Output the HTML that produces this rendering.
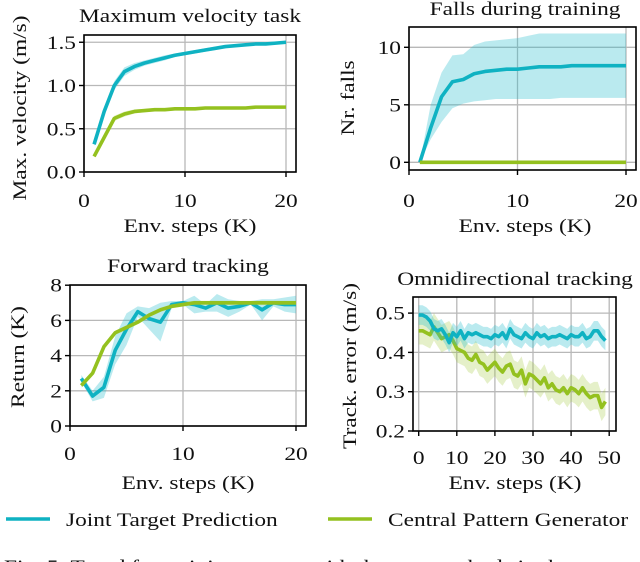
<!DOCTYPE html>
<html><head><meta charset="utf-8">
<style>
html,body{margin:0;padding:0;background:#fff;width:640px;height:562px;overflow:hidden}
svg{display:block}
text{font-family:"Liberation Serif","DejaVu Serif",serif;fill:#111}
</style></head>
<body>
<svg id="fig" width="640" height="562" viewBox="0 0 640 562" xmlns="http://www.w3.org/2000/svg"></svg>
<script>
// ---- data ----
const stepsA = [1,2,3,4,5,6,7,8,9,10,11,12,13,14,15,16,17,18,19,20];
const velJTP = [0.32,0.7,1.0,1.16,1.22,1.26,1.29,1.32,1.35,1.37,1.39,1.41,1.43,1.45,1.46,1.47,1.48,1.48,1.49,1.50];
const velCPG = [0.18,0.4,0.62,0.67,0.7,0.71,0.72,0.72,0.73,0.73,0.73,0.74,0.74,0.74,0.74,0.74,0.75,0.75,0.75,0.75];
const velSpread = [0.02,0.04,0.05,0.05,0.04,0.03,0.03,0.03,0.02,0.02,0.02,0.02,0.02,0.01,0.01,0.01,0.01,0.01,0.01,0.01];
const fallsJTP = [0,3,5.7,7.0,7.2,7.7,7.9,8.0,8.1,8.1,8.2,8.3,8.3,8.3,8.4,8.4,8.4,8.4,8.4,8.4];
const fallsUp = [0,5,7.8,9.3,9.4,10.2,10.5,10.6,10.7,10.8,11.0,11.2,11.2,11.2,11.2,11.2,11.2,11.2,11.2,11.2];
const fallsLo = [0,2,3.5,4.7,5.1,5.3,5.4,5.5,5.5,5.5,5.5,5.5,5.5,5.6,5.6,5.6,5.6,5.6,5.6,5.6];
const fallsCPG = [0,0,0,0,0,0,0,0,0,0,0,0,0,0,0,0,0,0,0,0];
const retJTP = [2.7,1.7,2.2,4.3,5.5,6.5,6.1,5.9,6.9,7.0,6.9,6.7,7.0,6.7,6.8,7.0,6.6,7.0,6.9,6.9];
const retSpread = [0.2,0.3,0.6,0.8,0.9,0.3,0.6,1.1,0.2,0.1,0.5,0.2,0.5,0.5,0.3,0.1,0.6,0.2,0.4,0.5];
const retCPG = [2.3,3.0,4.5,5.3,5.6,5.9,6.3,6.6,6.8,6.9,7.0,7.0,7.0,7.0,7.0,7.0,7.0,7.0,7.0,7.0];
const stepsB = [0,1,2,3,4,5,6,7,8,9,10,11,12,13,14,15,16,17,18,19,20,21,22,23,24,25,26,27,28,29,30,31,32,33,34,35,36,37,38,39,40,41,42,43,44,45,46,47,48,49];
const errJTP = [0.495,0.495,0.49,0.48,0.46,0.455,0.46,0.445,0.425,0.45,0.44,0.455,0.435,0.45,0.445,0.45,0.445,0.44,0.44,0.435,0.445,0.44,0.45,0.435,0.46,0.445,0.44,0.435,0.45,0.44,0.435,0.45,0.44,0.445,0.435,0.44,0.44,0.445,0.44,0.435,0.445,0.44,0.44,0.45,0.435,0.44,0.455,0.455,0.44,0.43];
const errCPG = [0.455,0.455,0.45,0.445,0.465,0.45,0.435,0.44,0.445,0.43,0.41,0.405,0.4,0.385,0.38,0.395,0.375,0.37,0.355,0.365,0.375,0.36,0.35,0.365,0.37,0.345,0.34,0.355,0.32,0.345,0.34,0.33,0.32,0.335,0.31,0.32,0.305,0.3,0.31,0.295,0.31,0.305,0.295,0.31,0.295,0.285,0.29,0.29,0.26,0.275];
const errSpreadJ = 0.025;
const errSpreadC = 0.035;
const xTicks20 = [0,10,20];
const xTicks50 = [0,10,20,30,40,50];
const yTicksVel = [0.0,0.5,1.0,1.5];
const yTicksFalls = [0,5,10];
const yTicksRet = [0,2,4,6,8];
const yTicksErr = [0.2,0.3,0.4,0.5];

const CJ = '#0fb2c2', CC = '#94c11f', BJ = 'rgba(40,190,205,0.32)', BC = 'rgba(160,200,60,0.28)';
const SX = 1.2, FS = 19.5;
const NS = 'http://www.w3.org/2000/svg';
const svg = document.getElementById('fig');
function el(tag, attrs, parent){const e=document.createElementNS(NS,tag);for(const k in attrs)e.setAttribute(k,attrs[k]);(parent||svg).appendChild(e);return e;}
function txt(parent,x,y,s,anchor,rot){
  const tr = rot ? `translate(${x},${y}) rotate(-90) scale(${SX},1)` : `translate(${x},${y}) scale(${SX},1)`;
  const t=el('text',{x:0,y:0,'font-size':FS,'text-anchor':anchor,transform:tr},parent);
  t.textContent=s; return t;
}

function panel(p){
  const g = el('g',{});
  
  
  const X = v => p.x0 + v*p.sx, Y = v => p.y0 - (v-p.yb)*p.sy;
  p.xt.forEach(t=>{const l=el('line',{x1:X(t),x2:X(t),y1:p.top,y2:p.bot,stroke:'#b8b8b8','stroke-width':1.3},g);
    });
  p.yt.forEach(t=>{const l=el('line',{x1:p.left,x2:p.right,y1:Y(t),y2:Y(t),stroke:'#b8b8b8','stroke-width':1.3},g);
    });
  p.series.forEach(s=>{
    if(s.lo){
      let d='M'+s.x.map((v,i)=>X(v)+','+Y(s.hi[i])).join('L')+'L'+s.x.slice().reverse().map((v,i)=>X(v)+','+Y(s.lo[s.x.length-1-i])).join('L')+'Z';
      const b=el('path',{d:d,fill:s.band,stroke:'none'},g);
      
    }
    const d='M'+s.x.map((v,i)=>X(v)+','+Y(s.y[i])).join('L');
    const l=el('path',{d:d,fill:'none',stroke:s.color,'stroke-width':3.6,'stroke-linejoin':'round'},g);
    
  });
  const f=el('rect',{x:p.left,y:p.top,width:p.right-p.left,height:p.bot-p.top,fill:'none',stroke:'#000','stroke-width':1.6},g);
  
  p.xt.forEach(t=>{el('line',{x1:X(t),x2:X(t),y1:p.bot,y2:p.bot+5,stroke:'#000','stroke-width':1.4},g);
    const tx=txt(g,X(t),p.xly,String(t),'middle');
    });
  p.yt.forEach(t=>{el('line',{x1:p.left-5,x2:p.left,y1:Y(t),y2:Y(t),stroke:'#000','stroke-width':1.4},g);
    const tx=txt(g,p.left-8,Y(t)+6.5,p.fmt(t),'end');
    });
  const ti=txt(g,p.tx,p.ty,p.title,'middle');
  
  const xl=txt(g,p.xlx,p.xlabY,'Env. steps (K)','middle');
  
  const yl=txt(g,p.ylx,p.yly,p.ylab,'middle',true);
  
}
const f1=v=>v.toFixed(1), f0=v=>String(v);
panel({name:'max-velocity-panel',x0:84,sx:10.1,y0:172,yb:0,sy:86.5,left:84,right:296,top:35,bot:172,
  xt:xTicks20,yt:yTicksVel,fmt:f1,xly:207,title:'Maximum velocity task',tx:190,ty:22,xlx:190,xlabY:232,ylab:'Max. velocity (m/s)',ylx:26,yly:108,
  series:[
    {id:'cpg-velocity',x:stepsA,y:velCPG,color:CC,band:BC,lo:velCPG.map((v,i)=>v-velSpread[i]*0.6),hi:velCPG.map((v,i)=>v+velSpread[i]*0.6)},
    {id:'jtp-velocity',x:stepsA,y:velJTP,color:CJ,band:BJ,lo:velJTP.map((v,i)=>v-velSpread[i]),hi:velJTP.map((v,i)=>v+velSpread[i])}]});
panel({name:'falls-panel',x0:409,sx:10.85,y0:162.3,yb:0,sy:11.5,left:409,right:636,top:27,bot:170,
  xt:xTicks20,yt:yTicksFalls,fmt:f0,xly:207,title:'Falls during training',tx:525,ty:15,xlx:525,xlabY:232,ylab:'Nr. falls',ylx:354,yly:98,
  series:[
    {id:'jtp-falls',x:stepsA,y:fallsJTP,color:CJ,band:BJ,lo:fallsLo,hi:fallsUp},
    {id:'cpg-falls',x:stepsA,y:fallsCPG,color:CC}]});
panel({name:'forward-tracking-panel',x0:70,sx:11.3,y0:426,yb:0,sy:17.6,left:70,right:306,top:285,bot:426,
  xt:xTicks20,yt:yTicksRet,fmt:f0,xly:460,title:'Forward tracking',tx:188,ty:272,xlx:188,xlabY:489,ylab:'Return (K)',ylx:24,yly:357,
  series:[
    {id:'jtp-return',x:stepsA,y:retJTP,color:CJ,band:BJ,lo:retJTP.map((v,i)=>v-retSpread[i]),hi:retJTP.map((v,i)=>v+retSpread[i])},
    {id:'cpg-return',x:stepsA,y:retCPG,color:CC,band:BC,lo:retCPG.map(v=>v-0.12),hi:retCPG.map(v=>v+0.12)}]});
panel({name:'omnidirectional-panel',x0:418.7,sx:3.81,y0:431,yb:0.2,sy:393,left:413,right:616,top:297,bot:431,
  xt:xTicks50,yt:yTicksErr,fmt:f1,xly:464,title:'Omnidirectional tracking',tx:515,ty:285,xlx:515,xlabY:489,ylab:'Track. error (m/s)',ylx:356,yly:366,
  series:[
    {id:'cpg-error',x:stepsB,y:errCPG,color:CC,band:BC,lo:errCPG.map(v=>v-errSpreadC),hi:errCPG.map(v=>v+errSpreadC)},
    {id:'jtp-error',x:stepsB,y:errJTP,color:CJ,band:BJ,lo:errJTP.map(v=>v-errSpreadJ),hi:errJTP.map(v=>v+errSpreadJ)}]});

const lg=el('g',{});


[[6,66,CJ,'Joint Target Prediction','legend-entry-jtp'],[328,388,CC,'Central Pattern Generator','legend-entry-cpg']].forEach(a=>{
  const g=el('g',{},lg);
  
  
  el('line',{x1:a[0],x2:a[0]+44,y1:519,y2:519,stroke:a[2],'stroke-width':3.6},g);
  txt(g,a[1],526,a[3],'start');
});
const cap=txt(svg,4,573,'Fig. 5: Trend for training curves with the two methods in the','start');


</script>
</body></html>
